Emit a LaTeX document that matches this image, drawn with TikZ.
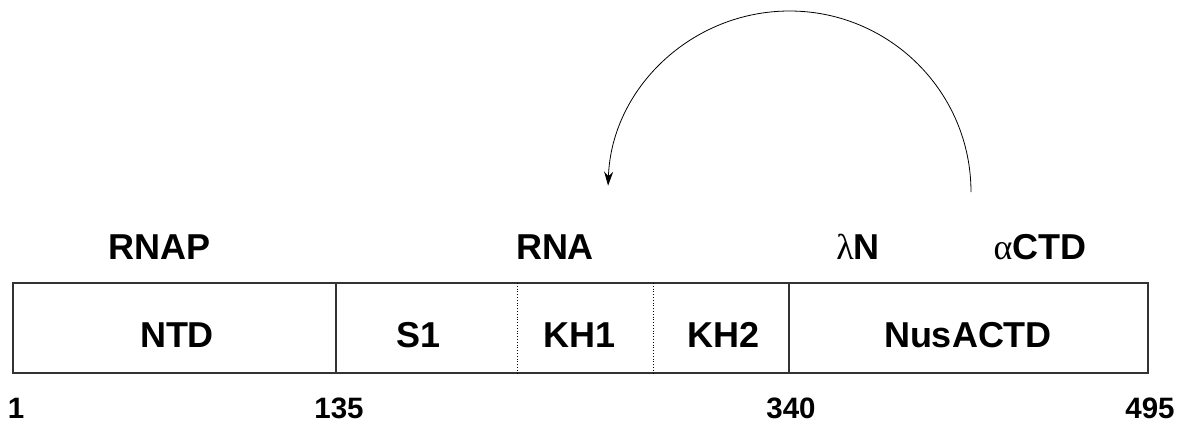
\documentclass[tikz,border=0pt]{standalone}
\usepackage{fontspec}
\setmainfont{Liberation Sans}
\newfontfamily\greekfont{Liberation Serif}
\usetikzlibrary{arrows.meta}
\begin{document}
\begin{tikzpicture}[x=1pt,y=-1pt,
  lbl/.style={font=\fontsize{36}{40}\selectfont\bfseries, inner sep=0pt, anchor=base},
  num/.style={font=\fontsize{29.5}{33}\selectfont\bfseries, inner sep=0pt, anchor=base},
  edge/.style={line width=1.2pt, draw=black!80},
  seam/.style={line width=0.8pt, dotted},
  link/.style={line width=0.8pt, -{Stealth[length=14pt,width=9pt]}}]
\useasboundingbox (0,0) rectangle (1184,424);
% domain bar
\draw[edge] (13,283) rectangle (1148,373);
\draw[edge] (336,283) -- (336,373);
\draw[edge] (789,283) -- (789,373);
\draw[seam] (517,283) -- (517,373);
\draw[seam] (653,283) -- (653,373);
% domain names
\node[lbl] (ntd) at (177,347) {NTD};
\node[lbl] (s1) at (419,347) {S1};
\node[lbl] (kh1) at (580,347) {KH1};
\node[lbl] (kh2) at (724,347) {KH2};
\node[lbl] (ctd) at (968,347) {NusACTD};
% binding partners
\node[lbl] (rnap) at (160,259) {RNAP};
\node[lbl] (rna) at (555,259) {RNA};
\node[lbl] (lamn) at (858,259) {{\greekfont\mdseries λ}N};
\node[lbl] (actd) at (1040,259) {{\greekfont\mdseries α}CTD};
% residue numbers
\node[num] (n1) at (16,418) {1};
\node[num] (n135) at (339,418) {135};
\node[num] (n340) at (791,418) {340};
\node[num] (n495) at (1150,418) {495};
% interaction arc
\coordinate (from) at (971,192);
\draw[link] (from) arc[start angle=0, end angle=178, x radius=181.5, y radius=-181];
\end{tikzpicture}
\end{document}
